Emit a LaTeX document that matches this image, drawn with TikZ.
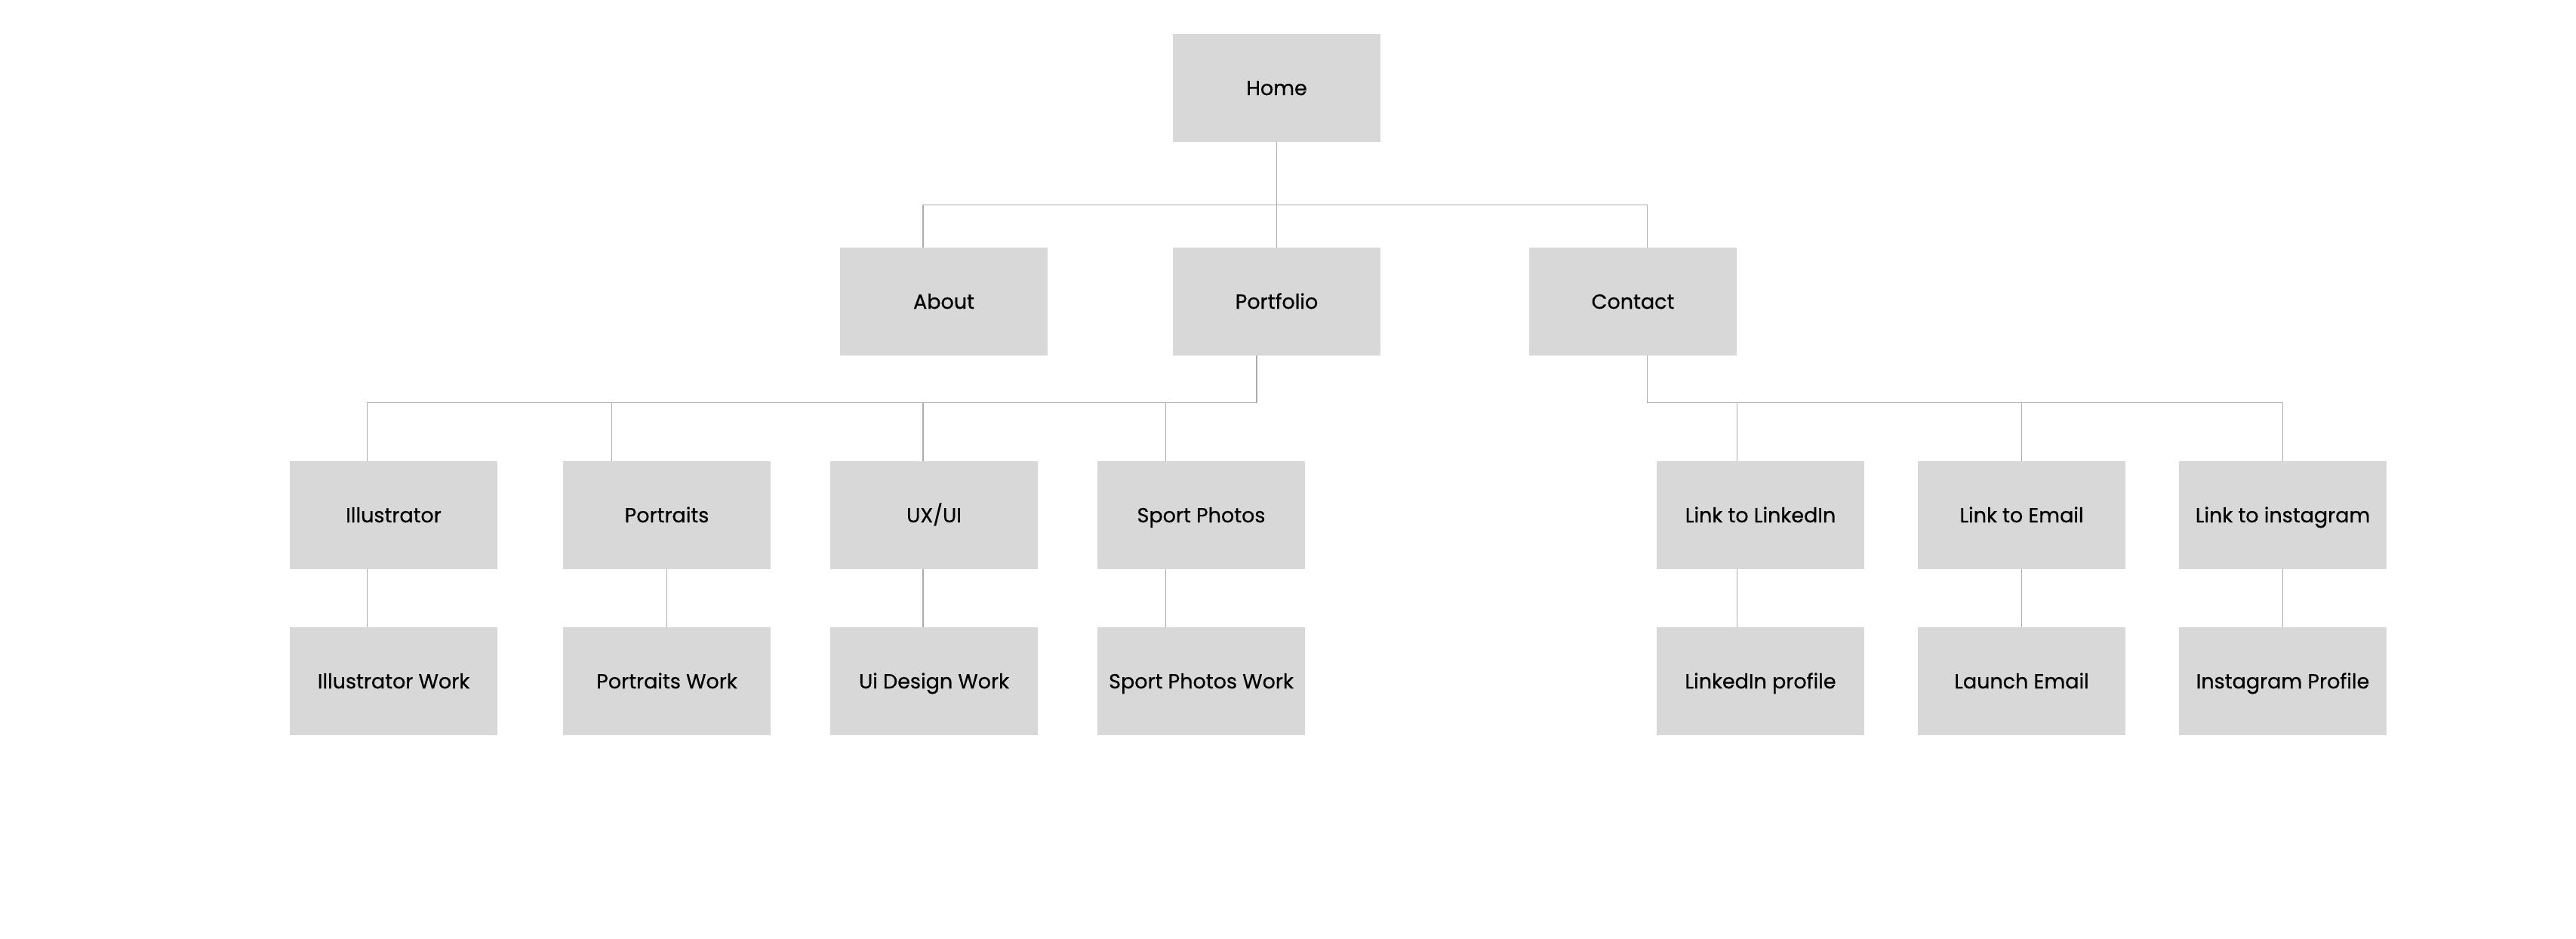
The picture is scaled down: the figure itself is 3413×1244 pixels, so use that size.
\documentclass[tikz,border=0pt]{standalone}
\usepackage{fontspec}
\setmainfont{Poppins}
\newfontfamily\boxfont[FakeBold=0.6]{Poppins}
\definecolor{boxfill}{HTML}{D8D8D8}
\definecolor{linecol}{HTML}{ADADAD}
\begin{document}
\begin{tikzpicture}[x=1pt,y=-1pt,
  pbox/.style={fill=boxfill,draw=none,minimum width=275pt,minimum height=143pt,inner sep=0pt,
    font=\boxfont\fontsize{27}{30}\selectfont,text=black,text height=19pt,text depth=0pt},
  conn/.style={draw=linecol,line width=1.5pt}]
\useasboundingbox (0,0) rectangle (3413,1244);
% level 1
\node[pbox] (home) at (1691.5,116.5) {Home};
% level 2
\node[pbox] (about) at (1250.5,399.5) {About};
\node[pbox] (portfolio) at (1691.5,399.5) {Portfolio};
\node[pbox] (contact) at (2163.5,399.5) {Contact};
% level 3
\node[pbox] (illus) at (521.5,682.5) {Illustrator};
\node[pbox] (portr) at (883.5,682.5) {Portraits};
\node[pbox] (uxui) at (1237.5,682.5) {UX/UI};
\node[pbox] (sport) at (1591.5,682.5) {Sport Photos};
\node[pbox] (lnk) at (2332.5,682.5) {Link to LinkedIn};
\node[pbox] (mail) at (2678.5,682.5) {Link to Email};
\node[pbox] (insta) at (3024.5,682.5) {Link to instagram};
% level 4
\node[pbox] (illusw) at (521.5,902.5) {Illustrator Work};
\node[pbox] (portrw) at (883.5,902.5) {Portraits Work};
\node[pbox] (uxuiw) at (1237.5,902.5) {Ui Design Work};
\node[pbox] (sportw) at (1591.5,902.5) {Sport Photos Work};
\node[pbox] (lnkw) at (2332.5,902.5) {LinkedIn profile};
\node[pbox] (mailw) at (2678.5,902.5) {Launch Email};
\node[pbox] (instaw) at (3024.5,902.5) {Instagram Profile};
% bus points
\coordinate (hb) at (1691.5,271.5);
\coordinate (pb) at (1665,533.5);
\coordinate (cb) at (2182.5,533.5);
% home to level 2
\draw[conn] (home.south) -- (hb);
\draw[conn] ([xshift=-27.5pt]about.north) |- (hb);
\draw[conn] (portfolio.north) -- (hb);
\draw[conn] ([xshift=19pt]contact.north) |- (hb);
% portfolio to level 3
\draw[conn] ([xshift=-26.5pt]portfolio.south) -- (pb);
\draw[conn] ([xshift=-34.8pt]illus.north) |- (pb);
\draw[conn] ([xshift=-72.8pt]portr.north) |- (pb);
\draw[conn] ([xshift=-14.5pt]uxui.north) |- (pb);
\draw[conn] ([xshift=-47pt]sport.north) |- (pb);
% contact to level 3
\draw[conn] ([xshift=19pt]contact.south) -- (cb);
\draw[conn] ([xshift=-30.8pt]lnk.north) |- (cb);
\draw[conn] (mail.north) |- (cb);
\draw[conn] (insta.north) |- (cb);
% level 3 to level 4
\draw[conn] ([xshift=-34.8pt]illus.south) -- ([xshift=-34.8pt]illusw.north);
\draw[conn] (portr.south) -- (portrw.north);
\draw[conn] ([xshift=-14.5pt]uxui.south) -- ([xshift=-14.5pt]uxuiw.north);
\draw[conn] ([xshift=-47pt]sport.south) -- ([xshift=-47pt]sportw.north);
\draw[conn] ([xshift=-30.8pt]lnk.south) -- ([xshift=-30.8pt]lnkw.north);
\draw[conn] (mail.south) -- (mailw.north);
\draw[conn] (insta.south) -- (instaw.north);
\end{tikzpicture}
\end{document}
